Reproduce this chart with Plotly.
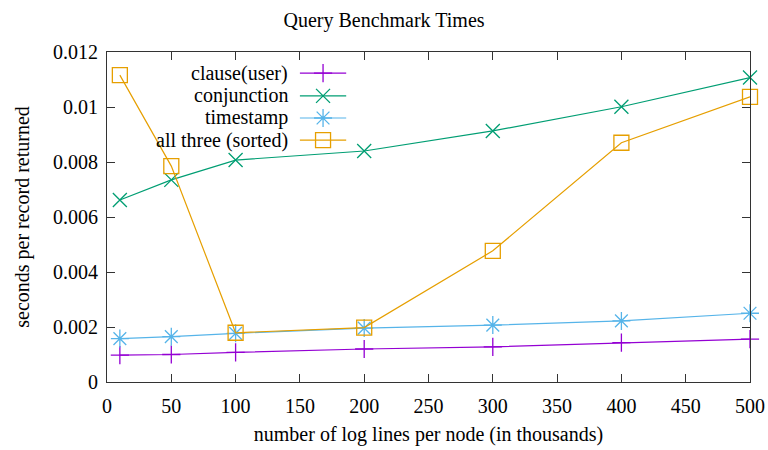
import plotly.graph_objects as go

# ---- data ----
x_lines = [10, 50, 100, 200, 300, 400, 500]
clause_user = [0.00098, 0.00100, 0.00108, 0.00120, 0.00128, 0.00143, 0.00156]
conjunction = [0.00662, 0.00735, 0.00807, 0.00840, 0.00913, 0.01001, 0.01107]
timestamp = [0.00158, 0.00165, 0.00177, 0.00196, 0.00207, 0.00222, 0.00250]
all_three = [0.01116, 0.00785, 0.00179, 0.00198, 0.00477, 0.00870, 0.01037]

series_names = ["clause(user)", "conjunction", "timestamp", "all three (sorted)"]
series_values = [clause_user, conjunction, timestamp, all_three]
colors = ["#9400d3", "#009e73", "#56b4e9", "#e69f00"]
symbols = ["cross-thin-open", "x-thin-open", "asterisk-open", "square-open"]
sizes = [13, 14, 15, 15]

x_ticks = [0, 50, 100, 150, 200, 250, 300, 350, 400, 450, 500]
y_ticks = [0, 0.002, 0.004, 0.006, 0.008, 0.010, 0.012]
y_tick_labels = ["0", "0.002", "0.004", "0.006", "0.008", "0.01", "0.012"]

FONT = "Liberation Serif"
FS = 20

fig = go.Figure()
for name, vals, c, s, sz in zip(series_names, series_values, colors, symbols, sizes):
    fig.add_trace(go.Scatter(
        x=x_lines, y=vals, name=name, mode="lines+markers",
        line=dict(color=c, width=1.2),
        marker=dict(symbol=s, size=sz, color=c, line=dict(color=c, width=1.3)),
        cliponaxis=False, showlegend=False,
    ))

# custom gnuplot-style key (text right-aligned, sample to the right)
key_rows = [0.936, 0.867, 0.800, 0.733]
key_text_x = 0.285
key_line = (0.300, 0.372)
for name, c, s, sz, ry in zip(series_names, colors, symbols, sizes, key_rows):
    fig.add_annotation(x=key_text_x, y=ry, xref="paper", yref="paper",
                       text=name, showarrow=False, xanchor="right", yanchor="middle",
                       font=dict(family=FONT, size=FS, color="#000"))
    fig.add_shape(type="line", xref="paper", yref="paper",
                  x0=key_line[0], x1=key_line[1], y0=ry, y1=ry,
                  line=dict(color=c, width=1.2))
    fig.add_trace(go.Scatter(
        x=[(key_line[0] + key_line[1]) / 2], y=[ry], xaxis="x2", yaxis="y2",
        mode="markers", showlegend=False, hoverinfo="skip",
        marker=dict(symbol=s, size=sz, color=c, line=dict(color=c, width=1.3)),
    ))

axis_common = dict(
    showline=True, linecolor="#333", linewidth=1, mirror="ticks",
    ticks="inside", ticklen=8, tickcolor="#333", showgrid=False, zeroline=False,
    tickfont=dict(family=FONT, size=FS, color="#000"), automargin=False,
)

fig.update_layout(
    width=768, height=450,
    margin=dict(l=107, r=18, t=52, b=68),
    paper_bgcolor="white", plot_bgcolor="white",
    title=dict(text="Query Benchmark Times", x=0.5, xanchor="center",
               y=0.955, yanchor="middle",
               font=dict(family=FONT, size=FS, color="#000")),
    xaxis=dict(range=[0, 500], tickvals=x_ticks, ticklabelstandoff=6,
               title=dict(text="number of log lines per node (in thousands)",
                          font=dict(family=FONT, size=FS, color="#000"), standoff=10),
               **axis_common),
    yaxis=dict(range=[0, 0.012], tickvals=y_ticks, ticktext=y_tick_labels,
               ticklabelstandoff=4,
               title=dict(text="seconds per record returned",
                          font=dict(family=FONT, size=FS, color="#000"), standoff=18),
               **axis_common),
    xaxis2=dict(overlaying="x", range=[0, 1], visible=False, domain=[0, 1]),
    yaxis2=dict(overlaying="y", range=[0, 1], visible=False, domain=[0, 1]),
    showlegend=False,
)

fig.write_html("out.html")
